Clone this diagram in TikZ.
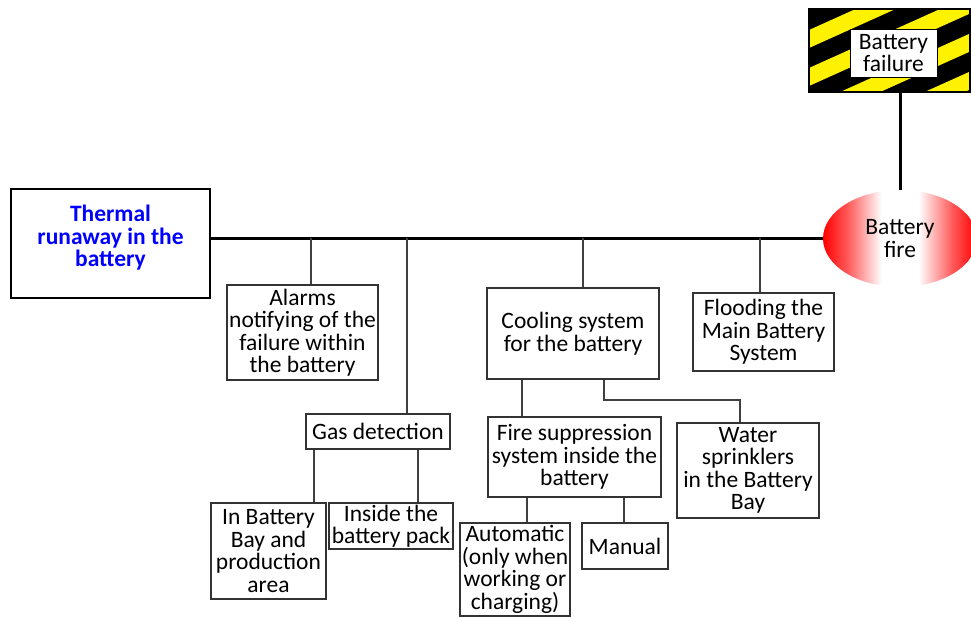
\documentclass[tikz,border=0pt]{standalone}
\usepackage{fontspec}
\setmainfont{Carlito}
\usetikzlibrary{shapes.geometric}
\pgfdeclarehorizontalshading{fireshade}{100bp}{color(0bp)=(red); color(25bp)=(red); color(33bp)=(red!65); color(44bp)=(white); color(56bp)=(white); color(67bp)=(red!65); color(75bp)=(red); color(100bp)=(red)}
\begin{document}
\begin{tikzpicture}[x=1pt,y=-1pt,
  font=\fontsize{23.5pt}{22.5pt}\selectfont,
  box/.style 2 args={draw=black!80, line width=1.2pt, fill=white, align=center, inner sep=0pt, minimum width=#1, minimum height=#2},
  conn/.style={draw=black!75, line width=1.2pt},
  mainline/.style={draw=black, line width=3pt}]
\useasboundingbox (0,0) rectangle (971,617);

% hazard box
\begin{scope}
  \clip (809,9) rectangle (970,92);
  \fill[black] (809,9) rectangle (970,92);
  \foreach \k in {-1,...,5}{
    \fill[yellow] (809,{30+38*\k}) -- (809,{48+38*\k}) -- (1009,{48+38*\k-90}) -- (1009,{30+38*\k-90}) -- cycle;
  }
\end{scope}
\node[draw=black, line width=2pt, minimum width=161, minimum height=83, inner sep=0pt] (failouter) at (889.5,50.5) {};
\node[box={87}{48}, draw=black, line width=0.8pt] (failure) at (893.5,53) {Battery\\failure};

% fire ellipse
\node[ellipse, shade, shading=fireshade, minimum width=154, minimum height=97, inner sep=0pt, align=center] (fire) at (900,238.5) {Battery\\fire};

% thermal runaway
\node[draw=black, line width=2.5pt, minimum width=199, minimum height=109, inner sep=0pt] (thermal) at (110.5,243.5) {};
\node[font=\fontsize{23.5pt}{22.5pt}\selectfont\bfseries, text=blue, align=center] (thermaltext) at (110.5,238) {Thermal\\runaway in the\\battery};

% boxes
\node[box={151}{95}] (alarms) at (302.5,332.5) {Alarms\\notifying of the\\failure within\\the battery};
\node[box={144}{35}] (gas) at (378,431.5) {Gas detection};
\node[box={115}{96}] (inbay) at (268.5,551) {In Battery\\Bay and\\production\\area};
\node[box={124}{46}] (inside) at (391,526) {Inside the\\battery pack};
\node[box={172}{91}] (cooling) at (573,333.5) {Cooling system\\for the battery};
\node[box={173}{80}] (firesup) at (574.5,457) {Fire suppression\\system inside the\\battery};
\node[box={110}{93}] (auto) at (515,569.5) {Automatic\\(only when\\working or\\charging)};
\node[box={86}{46}] (manual) at (625,546) {Manual};
\node[box={142}{95}] (water) at (748,470.5) {Water\\sprinklers\\in the Battery\\Bay};
\node[box={141}{78}] (flood) at (763.5,332) {Flooding the\\Main Battery\\System};

% main connectors
\draw[mainline] (thermal.east |- fire.west) -- (fire.west);
\draw[mainline] (fire.north |- failouter.south) -- (fire.north);

% branch positions
\coordinate (xa) at (311,0);
\coordinate (xg) at (407,0);
\coordinate (xg1) at (314,0);
\coordinate (xg2) at (418,0);
\coordinate (xc) at (583,0);
\coordinate (xc1) at (522,0);
\coordinate (xc2) at (604,0);
\coordinate (wbend) at (740,400);
\coordinate (xf1) at (527,0);
\coordinate (xf2) at (624,0);
\coordinate (xfl) at (760,0);

\draw[conn] (xa |- fire.west) -- (xa |- alarms.north);
\draw[conn] (xg |- fire.west) -- (xg |- gas.north);
\draw[conn] (xg1 |- gas.south) -- (xg1 |- inbay.north);
\draw[conn] (xg2 |- gas.south) -- (xg2 |- inside.north);
\draw[conn] (xc |- fire.west) -- (xc |- cooling.north);
\draw[conn] (xc1 |- cooling.south) -- (xc1 |- firesup.north);
\draw[conn] (xc2 |- cooling.south) |- (wbend) -- (wbend |- water.north);
\draw[conn] (xf1 |- firesup.south) -- (xf1 |- auto.north);
\draw[conn] (xf2 |- firesup.south) -- (xf2 |- manual.north);
\draw[conn] (xfl |- fire.west) -- (xfl |- flood.north);
\end{tikzpicture}
\end{document}
